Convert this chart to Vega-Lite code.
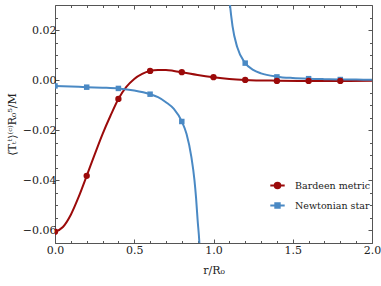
{
  "$schema": "https://vega.github.io/schema/vega-lite/v6.json",
  "width": 317,
  "height": 238,
  "autosize": "none",
  "padding": {"left": 55, "top": 5, "right": 9, "bottom": 43},
  "background": "white",
  "config": {
    "font": "DejaVu Serif",
    "view": {"stroke": "#555", "strokeWidth": 1},
    "axis": {
      "domain": false, "grid": false, "labelFlush": false,
      "labelFont": "DejaVu Serif", "labelFontSize": 11, "labelColor": "#222",
      "titleFont": "DejaVu Serif", "titleFontSize": 11, "titleFontWeight": "normal", "titleColor": "#222",
      "tickColor": "#555", "tickWidth": 1
    },
    "legend": {"labelFont": "DejaVu Serif", "labelFontSize": 9.5, "labelColor": "#222"}
  },
  "datasets": {
    "bardeen": [
      {"r": 0.0, "v": -0.0605}, {"r": 0.05, "v": -0.0586}, {"r": 0.1, "v": -0.0537},
      {"r": 0.15, "v": -0.0465}, {"r": 0.2, "v": -0.0382}, {"r": 0.25, "v": -0.0297},
      {"r": 0.3, "v": -0.0215}, {"r": 0.35, "v": -0.0142}, {"r": 0.4, "v": -0.0075},
      {"r": 0.45, "v": -0.0027}, {"r": 0.5, "v": 0.0005}, {"r": 0.55, "v": 0.0025},
      {"r": 0.6, "v": 0.0037}, {"r": 0.65, "v": 0.0041}, {"r": 0.7, "v": 0.0041},
      {"r": 0.75, "v": 0.0037}, {"r": 0.8, "v": 0.0032}, {"r": 0.9, "v": 0.0021},
      {"r": 1.0, "v": 0.0012}, {"r": 1.1, "v": 0.0005}, {"r": 1.2, "v": 0.0001},
      {"r": 1.4, "v": -0.0002}, {"r": 1.6, "v": -0.0003}, {"r": 1.8, "v": -0.0003},
      {"r": 2.0, "v": -0.0002}
    ],
    "newton": [
      {"branch": "L", "r": 0.0, "v": -0.0023}, {"branch": "L", "r": 0.1, "v": -0.0025},
      {"branch": "L", "r": 0.2, "v": -0.0028}, {"branch": "L", "r": 0.3, "v": -0.003},
      {"branch": "L", "r": 0.4, "v": -0.0033}, {"branch": "L", "r": 0.5, "v": -0.0041},
      {"branch": "L", "r": 0.6, "v": -0.0056}, {"branch": "L", "r": 0.65, "v": -0.0068},
      {"branch": "L", "r": 0.7, "v": -0.0088}, {"branch": "L", "r": 0.75, "v": -0.0115},
      {"branch": "L", "r": 0.8, "v": -0.0165}, {"branch": "L", "r": 0.83, "v": -0.0215},
      {"branch": "L", "r": 0.86, "v": -0.0305}, {"branch": "L", "r": 0.88, "v": -0.04},
      {"branch": "L", "r": 0.89, "v": -0.047}, {"branch": "L", "r": 0.9, "v": -0.056},
      {"branch": "L", "r": 0.91, "v": -0.064}, {"branch": "L", "r": 0.915, "v": -0.07},
      {"branch": "R", "r": 1.09, "v": 0.0416}, {"branch": "R", "r": 1.1, "v": 0.0328},
      {"branch": "R", "r": 1.12, "v": 0.0216}, {"branch": "R", "r": 1.15, "v": 0.0131},
      {"branch": "R", "r": 1.2, "v": 0.0068}, {"branch": "R", "r": 1.25, "v": 0.0041},
      {"branch": "R", "r": 1.3, "v": 0.0027}, {"branch": "R", "r": 1.4, "v": 0.0014},
      {"branch": "R", "r": 1.5, "v": 0.00085}, {"branch": "R", "r": 1.6, "v": 0.00056},
      {"branch": "R", "r": 1.7, "v": 0.0004}, {"branch": "R", "r": 1.8, "v": 0.00029},
      {"branch": "R", "r": 1.9, "v": 0.00022}, {"branch": "R", "r": 2.0, "v": 0.00018}
    ],
    "bmarks": [
      {"series": "Bardeen metric", "r": 0.0, "v": -0.0605},
      {"series": "Bardeen metric", "r": 0.2, "v": -0.0382},
      {"series": "Bardeen metric", "r": 0.4, "v": -0.0075},
      {"series": "Bardeen metric", "r": 0.6, "v": 0.0037},
      {"series": "Bardeen metric", "r": 0.8, "v": 0.0032},
      {"series": "Bardeen metric", "r": 1.0, "v": 0.0012},
      {"series": "Bardeen metric", "r": 1.2, "v": 0.0001},
      {"series": "Bardeen metric", "r": 1.4, "v": -0.0003},
      {"series": "Bardeen metric", "r": 1.6, "v": -0.0003},
      {"series": "Bardeen metric", "r": 1.8, "v": -0.0003}
    ],
    "nmarks": [
      {"series": "Newtonian star", "r": 0.0, "v": -0.0023},
      {"series": "Newtonian star", "r": 0.2, "v": -0.0028},
      {"series": "Newtonian star", "r": 0.4, "v": -0.0033},
      {"series": "Newtonian star", "r": 0.6, "v": -0.0056},
      {"series": "Newtonian star", "r": 0.8, "v": -0.0165},
      {"series": "Newtonian star", "r": 1.2, "v": 0.0068},
      {"series": "Newtonian star", "r": 1.4, "v": 0.0013},
      {"series": "Newtonian star", "r": 1.6, "v": 0.0006},
      {"series": "Newtonian star", "r": 1.8, "v": 0.00025}
    ]
  },
  "resolve": {"axis": {"x": "independent", "y": "independent"}},
  "layer": [
    {
      "mark": {"type": "rule", "stroke": "#999", "strokeWidth": 1.2, "strokeDash": [4, 3]},
      "encoding": {
        "y": {"datum": 0, "type": "quantitative", "scale": {"domain": [-0.065, 0.03], "nice": false, "zero": false},
          "axis": {"orient": "left", "values": [-0.065,-0.055,-0.05,-0.045,-0.035,-0.03,-0.025,-0.015,-0.01,-0.005,0.005,0.01,0.015,0.025], "labels": false, "tickSize": -2.5, "title": null}}
      }
    },
    {
      "mark": {"type": "rule", "stroke": "#999", "strokeWidth": 1.2, "strokeDash": [4, 3]},
      "encoding": {
        "x": {"datum": 1, "type": "quantitative", "scale": {"domain": [0, 2], "nice": false},
          "axis": {"orient": "bottom", "values": [0.1,0.2,0.3,0.4,0.6,0.7,0.8,0.9,1.1,1.2,1.3,1.4,1.6,1.7,1.8,1.9], "labels": false, "tickSize": -2.5, "title": null}}
      }
    },
    {
      "data": {"name": "bardeen"},
      "mark": {"type": "line", "stroke": "#9b0a0a", "strokeWidth": 2, "interpolate": "monotone", "clip": true},
      "encoding": {
        "x": {"field": "r", "type": "quantitative",
          "axis": {"orient": "bottom", "values": [0, 0.5, 1, 1.5, 2], "format": ".1f", "tickSize": -4, "labelPadding": 5, "title": "r/R₀", "titlePadding": 9}},
        "y": {"field": "v", "type": "quantitative",
          "axis": {"orient": "left", "values": [-0.06, -0.04, -0.02, 0, 0.02], "format": ".2f", "tickSize": -4, "labelPadding": 3, "title": "⟨Tₜᵗ⟩⁽ᶜ⁾R₀⁵/M", "titlePadding": 5}}
      }
    },
    {
      "data": {"name": "newton"},
      "mark": {"type": "line", "stroke": "#4a89c4", "strokeWidth": 2, "interpolate": "monotone", "clip": true},
      "encoding": {
        "x": {"field": "r", "type": "quantitative",
          "axis": {"orient": "top", "values": [0.1,0.2,0.3,0.4,0.6,0.7,0.8,0.9,1.1,1.2,1.3,1.4,1.6,1.7,1.8,1.9], "labels": false, "tickSize": -2.5, "title": null}},
        "y": {"field": "v", "type": "quantitative",
          "axis": {"orient": "right", "values": [-0.065,-0.055,-0.05,-0.045,-0.035,-0.03,-0.025,-0.015,-0.01,-0.005,0.005,0.01,0.015,0.025], "labels": false, "tickSize": -2.5, "title": null}},
        "detail": {"field": "branch"}
      }
    },
    {
      "data": {"name": "nmarks"},
      "mark": {"type": "point", "shape": "square", "filled": true, "opacity": 1, "size": 30, "clip": true},
      "encoding": {
        "x": {"field": "r", "type": "quantitative", "axis": null},
        "y": {"field": "v", "type": "quantitative", "axis": null},
        "fill": {"field": "series", "type": "nominal",
          "scale": {"domain": ["Newtonian star"], "range": ["#4a89c4"]},
          "legend": {"title": null, "orient": "none", "legendX": 214, "legendY": 192, "padding": 0, "symbolSize": 207, "labelOffset": 9,
            "symbolType": "M-1,0L1,0M-0.32,-0.32L0.32,-0.32L0.32,0.32L-0.32,0.32Z", "symbolStrokeColor": "#4a89c4", "symbolStrokeWidth": 1.8, "symbolOpacity": 1}}
      }
    },
    {
      "data": {"name": "bmarks"},
      "mark": {"type": "point", "shape": "circle", "filled": true, "opacity": 1, "size": 40, "clip": true},
      "encoding": {
        "x": {"field": "r", "type": "quantitative",
          "axis": {"orient": "top", "values": [0, 0.5, 1, 1.5, 2], "labels": false, "tickSize": -4, "title": null}},
        "y": {"field": "v", "type": "quantitative",
          "axis": {"orient": "right", "values": [-0.06, -0.04, -0.02, 0, 0.02], "labels": false, "tickSize": -4, "title": null}},
        "color": {"field": "series", "type": "nominal",
          "scale": {"domain": ["Bardeen metric"], "range": ["#9b0a0a"]},
          "legend": {"title": null, "orient": "none", "legendX": 214, "legendY": 172, "padding": 0, "symbolSize": 207, "labelOffset": 9,
            "symbolType": "M-1,0L1,0M0.4,0A0.4,0.4,0,1,1,-0.4,0A0.4,0.4,0,1,1,0.4,0Z", "symbolStrokeColor": "#9b0a0a", "symbolStrokeWidth": 1.8, "symbolOpacity": 1}}
      }
    }
  ]
}
